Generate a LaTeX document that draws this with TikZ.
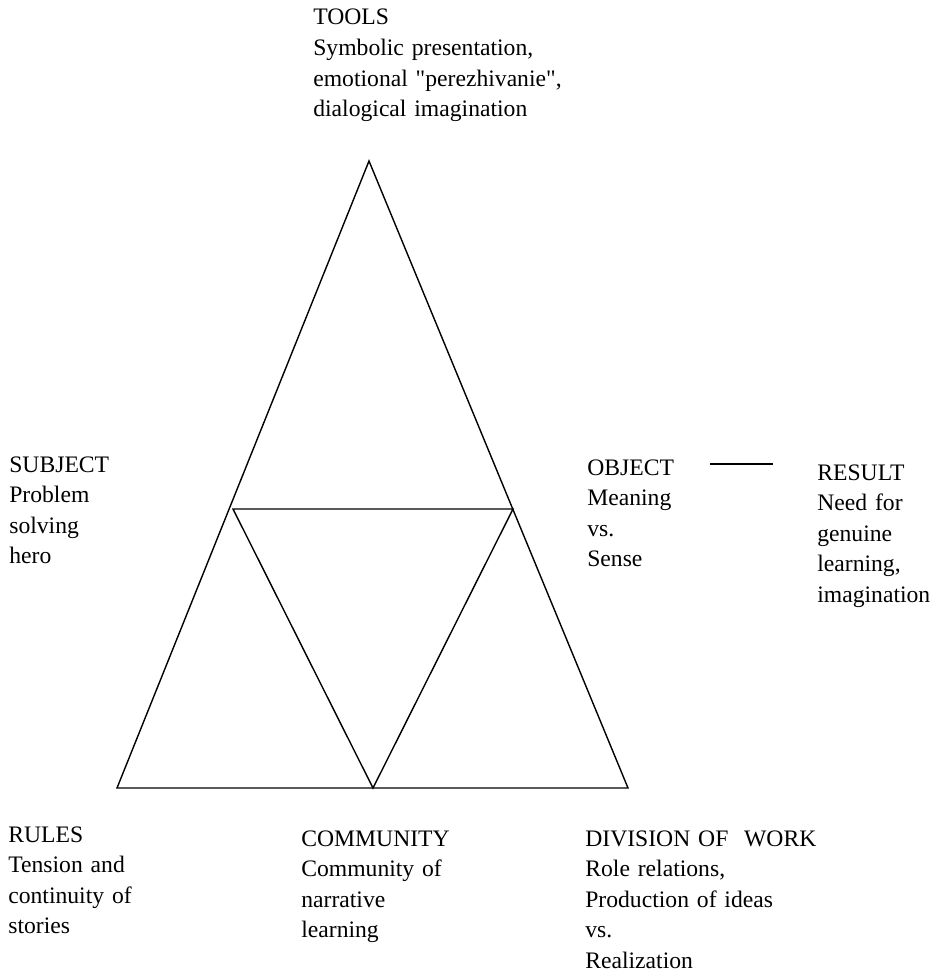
\documentclass[tikz,border=0pt]{standalone}
\usepackage{fontspec}
\setmainfont{Liberation Serif}[Ligatures=TeXOff]
\usepackage{tikz}

\tikzset{
  labeltext/.style={anchor=base west, inner sep=0pt, text width=7cm, align=left,
    font=\fontsize{13.45}{17.4}\selectfont},
  edgeline/.style={line width=0.8pt}
}

\begin{document}
\begin{tikzpicture}[x=0.02cm, y=-0.02cm]
    \useasboundingbox (0,0) rectangle (939,973);
    % outer triangle
    \coordinate (apex) at (369,161);
    \coordinate (left) at (117,788);
    \coordinate (right) at (628,788);
    % inner triangle
    \coordinate (midL) at (233,509);
    \coordinate (midR) at (513,509);
    \coordinate (base) at (373,788);
    % object -- result
    \coordinate (objend) at (710,464);
    \coordinate (resend) at (773,464);
    \draw[edgeline] (left) -- (apex) -- (right) -- cycle;
    \draw[edgeline] (midL) -- (midR) -- (base) -- cycle;
    \draw[edgeline] (objend) -- (resend);
    \node[labeltext] (tools) at (313,25) {TOOLS\\ Symbolic presentation,\\ emotional "perezhivanie",\\ dialogical imagination};
    \node[labeltext] (subject) at (9,472) {SUBJECT\\ Problem\\ solving\\ hero};
    \node[labeltext] (object) at (587,475) {OBJECT\\ Meaning\\ vs.\\ Sense};
    \node[labeltext] (result) at (817,480) {RESULT\\ Need for\\ genuine\\ learning,\\ imagination};
    \node[labeltext] (rules) at (8,842) {RULES\\ Tension and\\ continuity of\\ stories};
    \node[labeltext] (community) at (301,846) {COMMUNITY\\ Community of\\ narrative\\ learning};
    \node[labeltext] (division) at (585,846) {DIVISION OF\ \ WORK\\ Role relations,\\ Production of ideas\\ vs.\\ Realization};
\end{tikzpicture}
\end{document}
